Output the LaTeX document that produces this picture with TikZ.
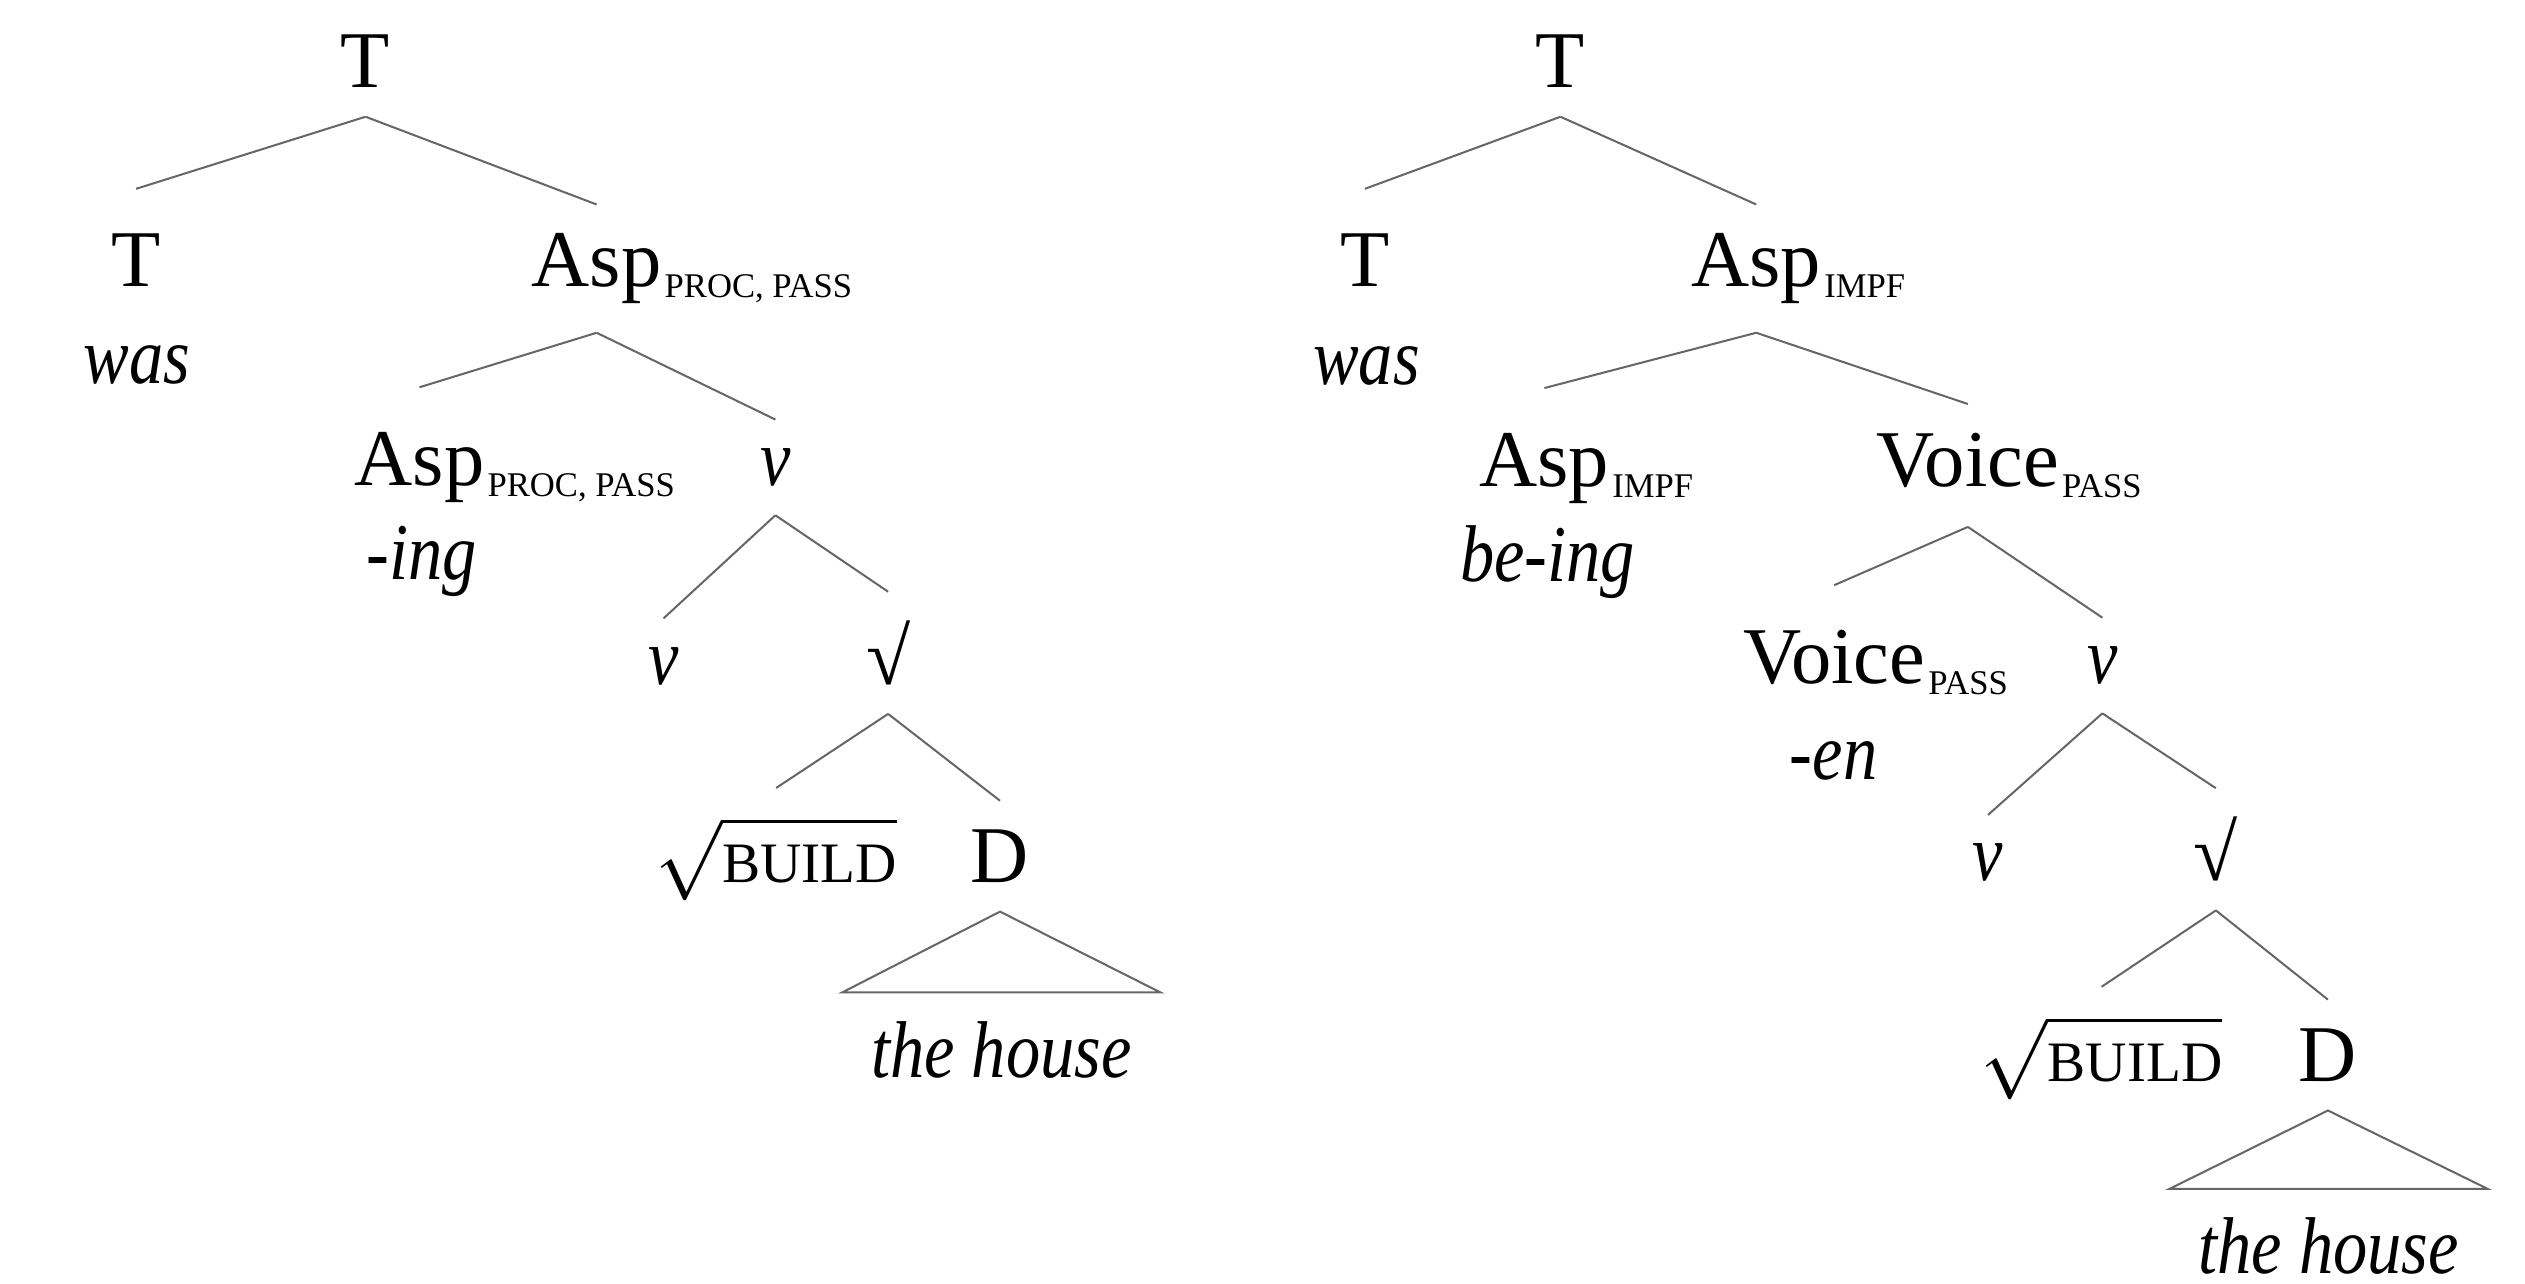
\documentclass[tikz,border=0pt]{standalone}
\usepackage{fontspec}
\setmainfont{Liberation Serif}[ItalicFeatures={FakeStretch=0.85}]
\newcommand{\featsub}[1]{\rlap{\raisebox{-1.4pt}{\fontsize{4.3}{4.3}\selectfont\kern0.4pt #1}}}
\newcommand{\rootof}[1]{$\sqrt{\mbox{\fontsize{7.1}{8}\selectfont #1}}$}
\tikzset{
  lbl/.style={anchor=base, inner sep=3.4pt},
  head/.style={lbl, inner ysep=5.4pt},
  gloss/.style={anchor=base, font=\itshape},
  edge/.style={draw=black!60, line width=0.25pt}
}
\begin{document}
\begin{tikzpicture}[x=0.2pt,y=-0.2pt]
  \useasboundingbox (0,0) rectangle (1568,797);
  % left tree
  \node[lbl] (rootL) at (227,54.5) {T};
  \node[head] (tL) at (84.5,178) {T};
  \node[gloss] (wasL) at (85,238) {was};
  \node[lbl] (aspL) at (370.5,178) {Asp\featsub{PROC, PASS}};
  \node[head] (aspLL) at (260.5,301.5) {Asp\featsub{PROC, PASS}};
  \node[gloss] (ingL) at (262,360) {-ing};
  \node[lbl] (vL) at (481.5,301.5) {\textit{v}};
  \node[lbl] (vvL) at (412,425) {\textit{v}};
  \node[lbl] (rtL) at (551.5,425) {√};
  \node[lbl] (buildL) at (482,548) {\rootof{BUILD}};
  \node[lbl] (dL) at (621,548) {D};
  \node[lbl, minimum width=38.8pt] (houseL) at (621.8,669) {\itshape the house};
  % right tree
  \node[lbl] (rootR) at (969,54.5) {T};
  \node[head] (tR) at (847.6,178) {T};
  \node[gloss] (wasR) at (848.6,238.5) {was};
  \node[lbl] (aspR) at (1090.6,178) {Asp\featsub{IMPF}};
  \node[head] (aspRL) at (959,302) {Asp\featsub{IMPF}};
  \node[gloss] (beingR) at (961,361) {be-ing};
  \node[lbl] (voiceR) at (1222,302) {Voice\featsub{PASS}};
  \node[head] (voiceRL) at (1139,424.5) {Voice\featsub{PASS}};
  \node[gloss] (enR) at (1138.6,484) {-en};
  \node[lbl] (vR) at (1305.5,424.5) {\textit{v}};
  \node[lbl] (vvR) at (1234.5,547) {\textit{v}};
  \node[lbl] (rtR) at (1376,547) {√};
  \node[lbl] (buildR) at (1305,671.5) {\rootof{BUILD}};
  \node[lbl] (dR) at (1445.6,671.5) {D};
  \node[lbl, minimum width=39.1pt] (houseR) at (1446,791) {\itshape the house};
  % branches
  \foreach \a/\b in {rootL/tL, rootL/aspL, aspL/aspLL, aspL/vL, vL/vvL, vL/rtL, rtL/buildL, rtL/dL,
      rootR/tR, rootR/aspR, aspR/aspRL, aspR/voiceR, voiceR/voiceRL, voiceR/vR, vR/vvR, vR/rtR, rtR/buildR, rtR/dR}
    \draw[edge] (\a.south) -- (\b.north);
  \draw[edge] (dL.south) -- (houseL.north west) -- (houseL.north east) -- cycle;
  \draw[edge] (dR.south) -- (houseR.north west) -- (houseR.north east) -- cycle;
\end{tikzpicture}
\end{document}
